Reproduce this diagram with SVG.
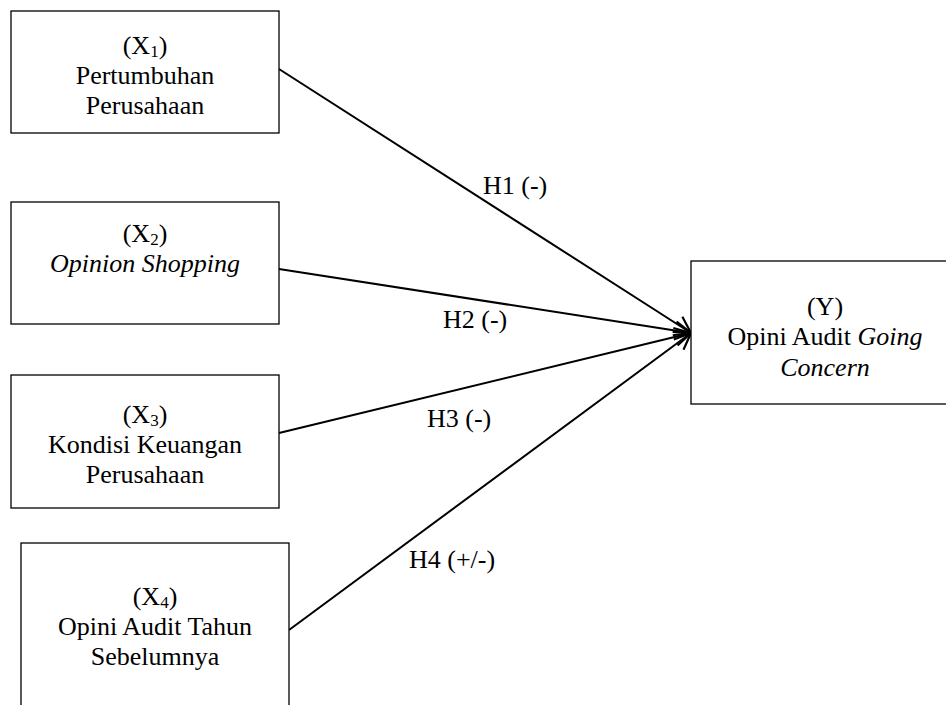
<svg xmlns="http://www.w3.org/2000/svg" width="946" height="705" viewBox="0 0 946 705">
<defs>
<style>
.box{fill:#fff;stroke:#000;stroke-width:1.3}
.c{stroke:#000;stroke-width:2;fill:none;marker-end:url(#arr)}
text{font-family:'Liberation Serif','Times New Roman',serif;font-size:26px;fill:#000}
.n text{text-anchor:middle}
.sub{font-size:17px}
.i{font-style:italic}
</style>
<marker id="arr" viewBox="0 0 20 20" refX="18.5" refY="10" markerWidth="20" markerHeight="20" markerUnits="userSpaceOnUse" orient="auto">
<polyline points="2.5,1 18.5,10 2.5,19" fill="none" stroke="#000" stroke-width="2.2"/>
</marker>
</defs>
<rect width="946" height="705" fill="#fff"/>
<g id="connectors">
<line class="c" x1="279" y1="69" x2="691" y2="333"/>
<line class="c" x1="279" y1="269" x2="691" y2="333"/>
<line class="c" x1="279" y1="433" x2="691" y2="333"/>
<line class="c" x1="289" y1="630" x2="691" y2="333"/>
<text x="483" y="194">H1 (-)</text>
<text x="443" y="328">H2 (-)</text>
<text x="427" y="427">H3 (-)</text>
<text x="409" y="568">H4 (+/-)</text>
</g>
<g class="n">
<g id="x1">
<rect class="box" x="11" y="11" width="268" height="122"/>
<text x="145" y="54">(X<tspan class="sub" dy="3">1</tspan><tspan dy="-3">)</tspan></text>
<text x="145" y="84">Pertumbuhan</text>
<text x="145" y="114">Perusahaan</text>
</g>
<g id="x2">
<rect class="box" x="11" y="202" width="268" height="122"/>
<text x="145" y="242">(X<tspan class="sub" dy="3">2</tspan><tspan dy="-3">)</tspan></text>
<text class="i" x="145" y="272">Opinion Shopping</text>
</g>
<g id="x3">
<rect class="box" x="11" y="375" width="268" height="133"/>
<text x="145" y="423">(X<tspan class="sub" dy="3">3</tspan><tspan dy="-3">)</tspan></text>
<text x="145" y="453">Kondisi Keuangan</text>
<text x="145" y="483">Perusahaan</text>
</g>
<g id="x4">
<rect class="box" x="21" y="543" width="268" height="180"/>
<text x="155" y="605">(X<tspan class="sub" dy="3">4</tspan><tspan dy="-3">)</tspan></text>
<text x="155" y="635">Opini Audit Tahun</text>
<text x="155" y="665">Sebelumnya</text>
</g>
<g id="y">
<rect class="box" x="691" y="261" width="268" height="143"/>
<text x="825" y="315">(Y)</text>
<text x="825" y="345">Opini Audit <tspan class="i">Going</tspan></text>
<text class="i" x="825" y="376">Concern</text>
</g>
</g>
</svg>
